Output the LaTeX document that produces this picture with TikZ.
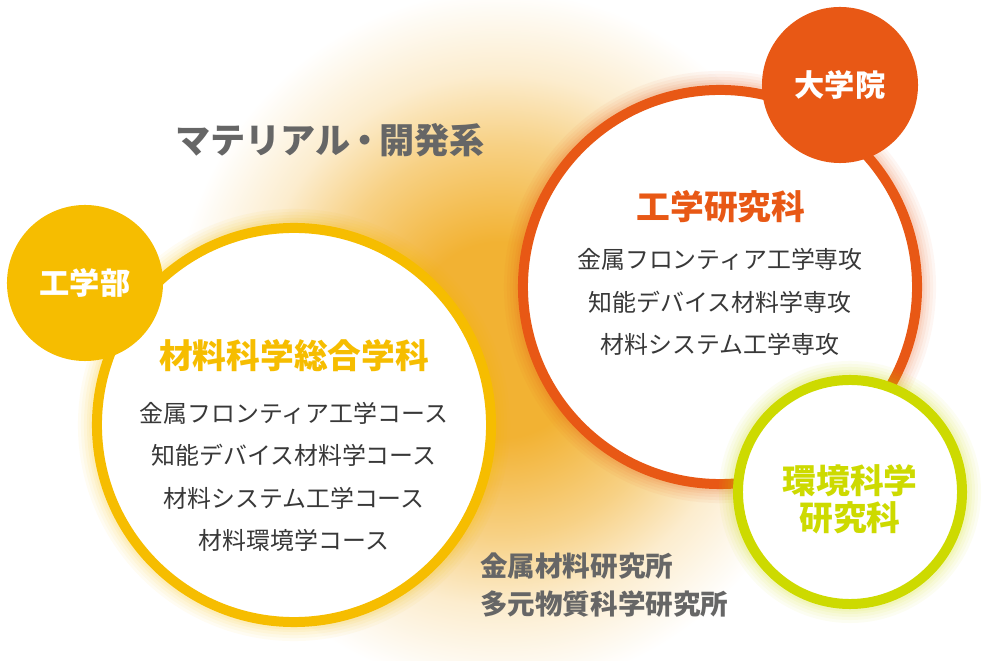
\documentclass[tikz,border=0pt]{standalone}
\usepackage{fontspec}
\setmainfont{Noto Sans CJK JP}
\usetikzlibrary{positioning}
\definecolor{kiiro}{HTML}{F6BD00}
\definecolor{daidai}{HTML}{E85815}
\definecolor{kimidori}{HTML}{CDDA00}
\definecolor{glowc}{HTML}{F2B233}
\definecolor{hai}{HTML}{666666}
\definecolor{sumi}{HTML}{383838}
\pgfdeclareradialshading{bgglow}{\pgfpoint{0bp}{0bp}}{%
  color(0bp)=(glowc); color(7bp)=(glowc); color(14bp)=(glowc!60!white);
  color(19bp)=(glowc!24!white); color(25bp)=(white); color(50bp)=(white)}
\tikzset{
  bigring/.style={
    shape = circle,
    inner sep = 0pt,
    minimum size = 9.85cm,
    line width = 7.1pt,
    draw = #1,
    fill = white,
    preaction={draw=#1, draw opacity=0.05, line width=0.95cm},
    preaction={draw=#1, draw opacity=0.05, line width=0.8cm},
    preaction={draw=#1, draw opacity=0.06, line width=0.65cm},
    preaction={draw=#1, draw opacity=0.07, line width=0.5cm},
    preaction={draw=#1, draw opacity=0.08, line width=0.38cm}
  },
  badge/.style={
    shape = circle,
    inner sep = 0pt,
    minimum size = 3.9cm,
    fill = #1,
    text = white,
    font = \fontsize{21.5pt}{24pt}\selectfont\bfseries
  },
  midashi/.style={
    inner sep = 0pt,
    font = \fontsize{24pt}{27pt}\selectfont\bfseries
  },
  koumoku/.style={
    inner sep = 0pt,
    align = center,
    text = sumi,
    font = \fontsize{17pt}{30.2pt}\selectfont
  },
  kikan/.style={
    inner sep = 0pt,
    align = left,
    text = hai,
    font = \fontsize{19.6pt}{27pt}\selectfont\bfseries
  }
}
\begin{document}
\begin{tikzpicture}[x=0.025cm, y=-0.025cm]
  \useasboundingbox (0,0) rectangle (1000,661);
  % glow behind
  \shade[shading=bgglow] (500,340) ellipse (330 and 350);
  % circles
  \node[bigring=kiiro] (gakka) at (294,425) {};
  \node[bigring=daidai] (kenkyuka) at (720,287) {};
  \node[bigring=kimidori, minimum size=5.6cm] (kankyo) at (850,492) {};
  \node[badge=kiiro] (gakubu) at (85,283) {工学部};
  \node[badge=daidai] (daigakuin) at (840,85) {大学院};
  % texts
  \node[midashi, text=hai, font=\fontsize{25pt}{27pt}\selectfont\bfseries]
    (keitou) at (330,140) {マテリアル\kern-.1em・\kern-.1em開発系};
  \node[midashi, text=kiiro] (gakka-title) at (294,356) {材料科学総合学科};
  \node[koumoku] (gakka-list) at (294,477)
    {金属フロンティア工学コース\\知能デバイス材料学コース\\材料システム工学コース\\材料環境学コース};
  \node[midashi, text=daidai] (kenkyuka-title) at (721,207) {工学研究科};
  \node[koumoku] (kenkyuka-list) at (720,302)
    {金属フロンティア工学専攻\\知能デバイス材料学専攻\\材料システム工学専攻};
  \node[midashi, text=kimidori, align=center, font=\fontsize{24pt}{26.5pt}\selectfont\bfseries]
    (kankyo-title) at (850,499) {環境科学\\研究科};
  \node[kikan, anchor=west] (kenkyusho) at (480,585) {金属材料研究所\\多元物質科学研究所};
\end{tikzpicture}
\end{document}
